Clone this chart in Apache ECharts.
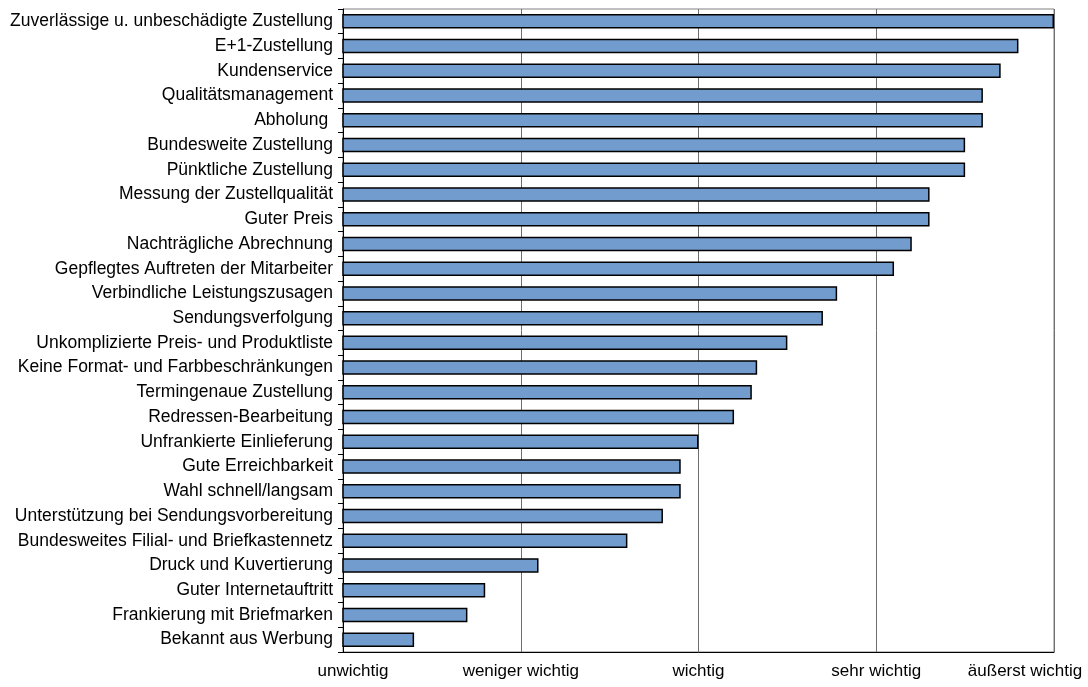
<!DOCTYPE html>
<html>
<head>
<meta charset="utf-8">
<script src="https://cdn.jsdelivr.net/npm/echarts@6/dist/echarts.min.js"></script>
<style>
html,body{margin:0;padding:0;background:#fff;}
#chart{width:1088px;height:687px;}
</style>
</head>
<body>
<div id="chart"></div>
<script>
const categories = [
  "Zuverlässige u. unbeschädigte Zustellung",
  "E+1-Zustellung",
  "Kundenservice",
  "Qualitätsmanagement",
  "Abholung ",
  "Bundesweite Zustellung",
  "Pünktliche Zustellung",
  "Messung der Zustellqualität",
  "Guter Preis",
  "Nachträgliche Abrechnung",
  "Gepflegtes Auftreten der Mitarbeiter",
  "Verbindliche Leistungszusagen",
  "Sendungsverfolgung",
  "Unkomplizierte Preis- und Produktliste",
  "Keine Format- und Farbbeschränkungen",
  "Termingenaue Zustellung",
  "Redressen-Bearbeitung",
  "Unfrankierte Einlieferung",
  "Gute Erreichbarkeit",
  "Wahl schnell/langsam",
  "Unterstützung bei Sendungsvorbereitung",
  "Bundesweites Filial- und Briefkastennetz",
  "Druck und Kuvertierung",
  "Guter Internetauftritt",
  "Frankierung mit Briefmarken",
  "Bekannt aus Werbung"
];
const values = [5.0, 4.8, 4.7, 4.6, 4.6, 4.5, 4.5, 4.3, 4.3, 4.2, 4.1, 3.78, 3.7, 3.5, 3.33, 3.3, 3.2, 3.0, 2.9, 2.9, 2.8, 2.6, 2.1, 1.8, 1.7, 1.4];
const tickLabels = ["unwichtig", "weniger wichtig", "wichtig", "sehr wichtig", "äußerst wichtig"];

const FONT = 'Liberation Sans, Arial, sans-serif';
const chart = echarts.init(document.getElementById('chart'));
chart.setOption({
  animation: false,
  backgroundColor: '#ffffff',
  textStyle: { fontFamily: FONT },
  grid: {
    left: 343, right: 34, top: 9, bottom: 35,
    show: true, borderColor: '#808080', borderWidth: 1, backgroundColor: 'transparent'
  },
  xAxis: {
    type: 'value',
    min: 1, max: 5, interval: 1,
    axisLine: { show: true, lineStyle: { color: '#000', width: 1 } },
    axisTick: { show: false },
    splitLine: { show: true, lineStyle: { color: '#6e6e6e', width: 1 } },
    axisLabel: {
      margin: 11,
      color: '#000',
      fontSize: 17,
      fontFamily: FONT,
      formatter: function (v) {
        const i = Math.round(v);
        const t = tickLabels[i - 1] || '';
        if (i === 5) return '{last|' + t + '}';
        if (i === 1) return '{first|' + t + '}';
        return t;
      },
      rich: {
        first: { fontSize: 17, color: '#000', fontFamily: FONT, padding: [0, 0, 0, 20] },
        last: { fontSize: 17, color: '#000', fontFamily: FONT, padding: [0, 58, 0, 0] }
      }
    }
  },
  yAxis: {
    type: 'category',
    data: categories,
    inverse: true,
    axisLine: { show: true, lineStyle: { color: '#000', width: 1 } },
    axisTick: { show: true, length: 5, alignWithLabel: false, lineStyle: { color: '#000' } },
    axisLabel: {
      margin: 10,
      color: '#000',
      fontSize: 17.5,
      fontFamily: FONT
    },
    splitLine: { show: false }
  },
  series: [{
    type: 'bar',
    data: values,
    barWidth: 14.5,
    itemStyle: { color: '#739cce', borderColor: '#000', borderWidth: 1.5 }
  }]
});
</script>
</body>
</html>
